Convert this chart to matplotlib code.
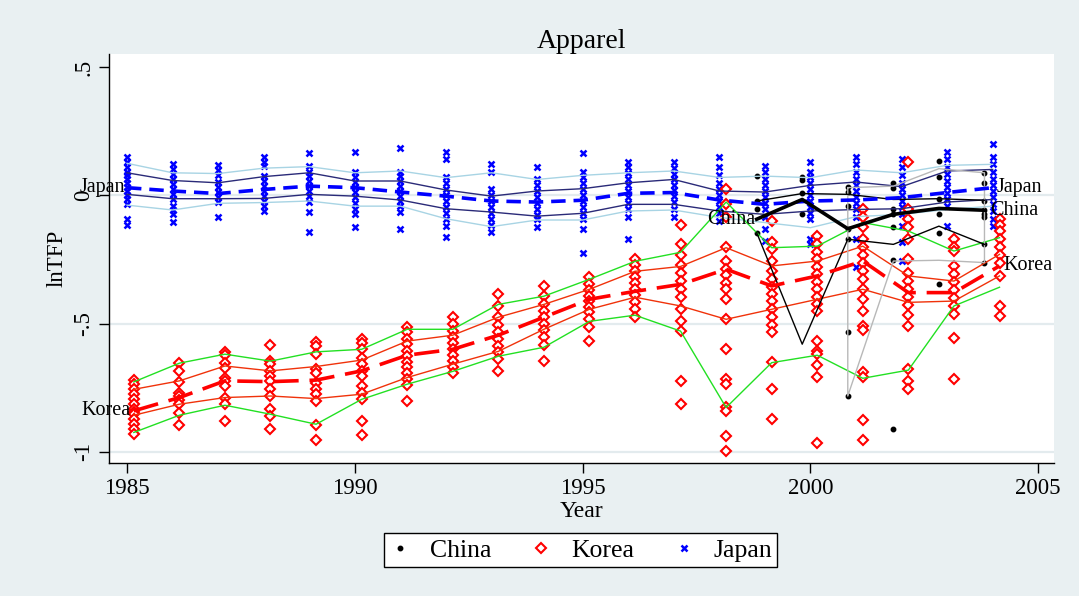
import matplotlib
matplotlib.use('Agg')
import matplotlib.pyplot as plt
import matplotlib.lines as mlines

plt.rcParams['font.family'] = ['Liberation Serif', 'DejaVu Serif']

# ---------------------------------------------------------------- data
years = list(range(1985, 2005))
china_years = list(range(1999, 2005))
china_band_years = list(range(2001, 2005))

# Japan: mean, inner band (dark) and outer band (light)
jp_mean = [0.030, 0.017, 0.007, 0.023, 0.036, 0.030, 0.013, -0.003, -0.022, -0.026,
           -0.019, 0.008, 0.011, -0.018, -0.035, -0.022, -0.018, -0.009, 0.011, 0.030]
jp_p25 = [0.004, -0.013, -0.013, -0.012, 0.004, -0.003, -0.018, -0.052, -0.065, -0.081,
          -0.070, -0.035, -0.035, -0.061, -0.074, -0.061, -0.055, -0.052, -0.026, -0.016]
jp_p75 = [0.088, 0.058, 0.049, 0.073, 0.088, 0.056, 0.056, 0.021, -0.003, 0.017,
          0.026, 0.049, 0.062, 0.017, 0.013, 0.039, 0.052, 0.034, 0.095, 0.101]
jp_p10 = [-0.038, -0.057, -0.031, -0.028, -0.022, -0.042, -0.042, -0.091, -0.122, -0.096,
          -0.096, -0.061, -0.057, -0.086, -0.106, -0.126, -0.083, -0.074, -0.055, -0.042]
jp_p90 = [0.125, 0.088, 0.085, 0.106, 0.112, 0.088, 0.095, 0.069, 0.088, 0.062,
          0.078, 0.088, 0.095, 0.070, 0.075, 0.069, 0.099, 0.088, 0.117, 0.121]

# Korea
kr_mean = [-0.840, -0.788, -0.723, -0.726, -0.720, -0.684, -0.623, -0.600, -0.545, -0.475,
           -0.405, -0.374, -0.347, -0.288, -0.353, -0.314, -0.256, -0.379, -0.379, -0.275]
kr_p75 = [-0.756, -0.723, -0.665, -0.684, -0.667, -0.642, -0.568, -0.545, -0.475, -0.425,
          -0.366, -0.296, -0.277, -0.204, -0.275, -0.256, -0.198, -0.314, -0.334, -0.230]
kr_p25 = [-0.857, -0.814, -0.788, -0.782, -0.792, -0.775, -0.710, -0.658, -0.608, -0.522,
          -0.444, -0.397, -0.431, -0.483, -0.444, -0.405, -0.366, -0.417, -0.412, -0.314]
kr_p90 = [-0.727, -0.654, -0.619, -0.646, -0.610, -0.600, -0.522, -0.522, -0.425, -0.393,
          -0.327, -0.257, -0.222, -0.026, -0.204, -0.198, -0.106, -0.139, -0.217, -0.165]
kr_p10 = [-0.924, -0.857, -0.818, -0.853, -0.892, -0.795, -0.736, -0.686, -0.627, -0.592,
          -0.491, -0.467, -0.529, -0.827, -0.652, -0.623, -0.713, -0.681, -0.431, -0.358]

# China
ch_mean = [-0.093, -0.016, -0.130, -0.074, -0.051, -0.058]
ch_p75 = [-0.022, 0.007, 0.004, -0.016, -0.013, -0.019]
ch_p25 = [-0.145, -0.580, -0.171, -0.191, -0.120, -0.191]
ch_p90 = [0.030, 0.036, 0.104, 0.088]
ch_p10 = [-0.782, -0.256, -0.253, -0.262]

# firm-level observations, one list per year
jp_points = [
    [0.148, 0.129, 0.109, 0.093, 0.078, 0.062, 0.047, 0.031, 0.016, 0.000, -0.016, -0.035, -0.093, -0.117],
    [0.121, 0.101, 0.082, 0.062, 0.043, 0.023, 0.004, -0.016, -0.043, -0.058, -0.074, -0.105],
    [0.117, 0.097, 0.078, 0.051, 0.031, 0.012, -0.008, -0.027, -0.086],
    [0.148, 0.129, 0.113, 0.074, 0.055, 0.035, 0.016, -0.004, -0.023, -0.043, -0.062],
    [0.164, 0.113, 0.093, 0.074, 0.055, 0.035, 0.016, -0.004, -0.027, -0.066, -0.144],
    [0.168, 0.090, 0.070, 0.051, 0.031, 0.012, -0.008, -0.031, -0.055, -0.074, -0.125],
    [0.183, 0.093, 0.074, 0.055, 0.035, 0.016, -0.004, -0.023, -0.043, -0.066, -0.132],
    [0.168, 0.140, 0.070, 0.047, 0.023, 0.000, -0.023, -0.047, -0.070, -0.093, -0.121, -0.164],
    [0.121, 0.090, 0.023, 0.000, -0.023, -0.047, -0.070, -0.093, -0.117, -0.144],
    [0.109, 0.062, 0.039, 0.016, -0.008, -0.031, -0.055, -0.078, -0.093, -0.125],
    [0.164, 0.093, 0.070, 0.047, 0.023, 0.000, -0.023, -0.047, -0.070, -0.093, -0.132, -0.226],
    [0.132, 0.109, 0.086, 0.062, 0.039, 0.016, -0.008, -0.031, -0.055, -0.086, -0.171],
    [0.132, 0.105, 0.082, 0.062, 0.039, 0.020, -0.004, -0.027, -0.055, -0.086],
    [0.148, 0.109, 0.078, 0.047, 0.023, 0.000, -0.023, -0.047, -0.070, -0.101],
    [0.113, 0.093, 0.062, 0.039, 0.016, -0.008, -0.031, -0.055, -0.086, -0.132, -0.179],
    [0.129, 0.093, 0.070, 0.047, 0.023, 0.000, -0.023, -0.047, -0.070, -0.093, -0.171, -0.191],
    [0.148, 0.121, 0.093, 0.062, 0.039, 0.016, -0.008, -0.031, -0.055, -0.086, -0.171, -0.280],
    [0.140, 0.109, 0.078, 0.047, 0.023, 0.000, -0.023, -0.047, -0.074, -0.121, -0.183, -0.257],
    [0.168, 0.140, 0.109, 0.082, 0.055, 0.031, 0.008, -0.016, -0.043, -0.121],
    [0.199, 0.148, 0.121, 0.093, 0.062, 0.039, 0.016, -0.008, -0.035, -0.062, -0.093, -0.121],
]

kr_points = [
    [-0.720, -0.736, -0.753, -0.775, -0.795, -0.814, -0.834, -0.844, -0.853, -0.873, -0.892, -0.909, -0.931],
    [-0.654, -0.684, -0.727, -0.769, -0.782, -0.797, -0.814, -0.849, -0.896],
    [-0.610, -0.623, -0.654, -0.671, -0.710, -0.723, -0.743, -0.788, -0.814, -0.879],
    [-0.584, -0.646, -0.658, -0.684, -0.704, -0.723, -0.756, -0.782, -0.834, -0.860, -0.912],
    [-0.571, -0.589, -0.619, -0.678, -0.691, -0.730, -0.756, -0.775, -0.801, -0.896, -0.954],
    [-0.561, -0.574, -0.600, -0.632, -0.658, -0.684, -0.704, -0.743, -0.769, -0.795, -0.879, -0.935],
    [-0.514, -0.534, -0.561, -0.580, -0.608, -0.627, -0.651, -0.670, -0.693, -0.717, -0.740, -0.803],
    [-0.475, -0.503, -0.530, -0.553, -0.577, -0.600, -0.623, -0.647, -0.670, -0.693],
    [-0.386, -0.432, -0.475, -0.506, -0.534, -0.561, -0.588, -0.612, -0.639, -0.686],
    [-0.355, -0.393, -0.425, -0.452, -0.475, -0.503, -0.526, -0.553, -0.584, -0.647],
    [-0.319, -0.347, -0.370, -0.393, -0.413, -0.436, -0.456, -0.483, -0.514, -0.569],
    [-0.249, -0.273, -0.296, -0.319, -0.343, -0.366, -0.390, -0.417, -0.444, -0.475],
    [-0.117, -0.191, -0.234, -0.273, -0.304, -0.335, -0.366, -0.397, -0.444, -0.491, -0.530, -0.725, -0.814],
    [0.023, -0.035, -0.086, -0.203, -0.257, -0.288, -0.312, -0.343, -0.366, -0.405, -0.483, -0.600,
     -0.717, -0.737, -0.826, -0.842, -0.939, -0.997],
    [-0.101, -0.183, -0.210, -0.257, -0.296, -0.327, -0.358, -0.386, -0.413, -0.444, -0.475, -0.506,
     -0.534, -0.651, -0.756, -0.873],
    [-0.160, -0.191, -0.222, -0.249, -0.280, -0.308, -0.339, -0.366, -0.397, -0.425, -0.452, -0.569,
     -0.608, -0.619, -0.662, -0.709, -0.966],
    [-0.055, -0.086, -0.125, -0.171, -0.203, -0.234, -0.265, -0.296, -0.327, -0.366, -0.405, -0.452,
     -0.510, -0.526, -0.690, -0.709, -0.877, -0.954],
    [0.129, -0.055, -0.093, -0.125, -0.171, -0.249, -0.304, -0.335, -0.366, -0.397, -0.428, -0.467,
     -0.510, -0.678, -0.725, -0.756],
    [-0.171, -0.203, -0.218, -0.277, -0.308, -0.339, -0.370, -0.401, -0.432, -0.464, -0.557, -0.714],
    [-0.093, -0.117, -0.140, -0.171, -0.203, -0.234, -0.265, -0.315, -0.432, -0.471],
]

ch_points = [
    [0.075, -0.022, -0.055, -0.145],
    [0.070, 0.060, 0.008, -0.074],
    [0.031, 0.012, -0.042, -0.130, -0.171, -0.531, -0.782],
    [0.047, 0.030, -0.052, -0.074, -0.122, -0.252, -0.912],
    [0.134, 0.071, -0.013, -0.074, -0.148, -0.347],
    [0.088, 0.047, -0.022, -0.058, -0.074, -0.083, -0.191, -0.262],
]

y_ticks = [0.5, 0, -0.5, -1]
y_tick_labels = ['.5', '0', '-.5', '-1']
x_ticks = [1985, 1990, 1995, 2000, 2005]

# ---------------------------------------------------------------- style
BG = '#E9F0F2'
KR_SHIFT = 0.15
CH_SHIFT = -0.18

fig = plt.figure(figsize=(10.79, 5.96), dpi=100, facecolor=BG)
ax = fig.add_axes([0.101, 0.2232, 0.876, 0.6862])
ax.set_facecolor('white')

for g in [0, -0.5, -1]:
    ax.axhline(g, color='#E3EBEE', lw=1.6, zorder=0)

# scatter of observations
for yr, vals in zip(years, jp_points):
    ax.plot([yr] * len(vals), vals, 'x', color='#0000FF', ms=4.5, mew=1.8, zorder=2)
for yr, vals in zip(years, kr_points):
    ax.plot([yr + KR_SHIFT] * len(vals), vals, 'D', mfc='white', mec='#FF0000',
            ms=4.6, mew=1.5, zorder=2)
for yr, vals in zip(china_years, ch_points):
    ax.plot([yr + CH_SHIFT] * len(vals), vals, 'o', color='black', ms=3.2, zorder=3)

# Japan lines
ax.plot(years, jp_p90, color='#A8D4E4', lw=1.0, zorder=4)
ax.plot(years, jp_p10, color='#A8D4E4', lw=1.0, zorder=4)
ax.plot(years, jp_p75, color='#2A2A78', lw=1.0, zorder=4)
ax.plot(years, jp_p25, color='#2A2A78', lw=1.0, zorder=4)
ax.plot(years, jp_mean, color='#0000FF', lw=2.6, dashes=(4, 2.2), zorder=5)

# Korea lines
kx = [y + KR_SHIFT for y in years]
ax.plot(kx, kr_p90, color='#22E022', lw=1.0, zorder=4)
ax.plot(kx, kr_p10, color='#22E022', lw=1.0, zorder=4)
ax.plot(kx, kr_p75, color='#F0320A', lw=1.0, zorder=4)
ax.plot(kx, kr_p25, color='#F0320A', lw=1.0, zorder=4)
ax.plot(kx, kr_mean, color='#FF0000', lw=2.6, dashes=(7, 3), zorder=5)

# China lines
cx = [y + CH_SHIFT for y in china_years]
bx = [y + CH_SHIFT for y in china_band_years]
ax.plot(bx + bx[::-1] + [bx[0]], ch_p90 + ch_p10[::-1] + [ch_p90[0]],
        color='#B8B8B8', lw=1.0, zorder=4)
ax.plot(cx, ch_p75, color='black', lw=1.0, zorder=4)
ax.plot(cx, ch_p25, color='black', lw=1.0, zorder=4)
ax.plot(cx, ch_mean, color='black', lw=2.6, zorder=5)

# inline labels
lab = dict(fontsize=14.5, va='center', clip_on=False, zorder=6)
ax.text(years[0] - 0.05, jp_mean[0], 'Japan', ha='right', **lab)
ax.text(kx[0] - 0.08, kr_mean[0], 'Korea', ha='right', **lab)
ax.text(cx[0] - 0.02, ch_mean[0], 'China', ha='right', **lab)
ax.text(years[-1] + 0.08, jp_mean[-1], 'Japan', ha='left', **lab)
ax.text(kx[-1] + 0.08, kr_mean[-1], 'Korea', ha='left', **lab)
ax.text(cx[-1] + 0.12, ch_mean[-1], 'China', ha='left', **lab)

# axes
ax.set_xlim(1984.605, 2005.35)
ax.set_ylim(-1.043, 0.551)
ax.set_xticks(x_ticks)
ax.set_xticklabels([str(x) for x in x_ticks], fontsize=16.5)
ax.set_yticks(y_ticks)
ax.set_yticklabels(y_tick_labels, fontsize=16.5, rotation=90, va='center')
ax.tick_params(axis='both', length=7.5, width=1.0, color='black', pad=3)
for s in ['top', 'right']:
    ax.spines[s].set_visible(False)
for s in ['left', 'bottom']:
    ax.spines[s].set_color('black')
    ax.spines[s].set_linewidth(1.0)
ax.set_xlabel('Year', fontsize=17, labelpad=2)
ax.set_ylabel('lnTFP', fontsize=16.5, labelpad=4)
ax.set_title('Apparel', fontsize=20, pad=2)

# legend
handles = [
    mlines.Line2D([], [], ls='none', marker='o', color='black', ms=3.2),
    mlines.Line2D([], [], ls='none', marker='D', mfc='white', mec='#FF0000', ms=4.6, mew=1.5),
    mlines.Line2D([], [], ls='none', marker='x', color='#0000FF', ms=4.5, mew=1.8),
]
leg = fig.legend(handles, ['China', 'Korea', 'Japan'], loc='center', ncol=3,
                 bbox_to_anchor=(0.538, 0.077), fontsize=18.5, frameon=True, fancybox=False,
                 edgecolor='black', facecolor='white', framealpha=1, columnspacing=1.5,
                 handletextpad=0.7, handlelength=0.9, borderpad=0.2, borderaxespad=0)
leg.get_frame().set_linewidth(1.0)

fig.savefig('out.png', dpi=100, facecolor=BG)
